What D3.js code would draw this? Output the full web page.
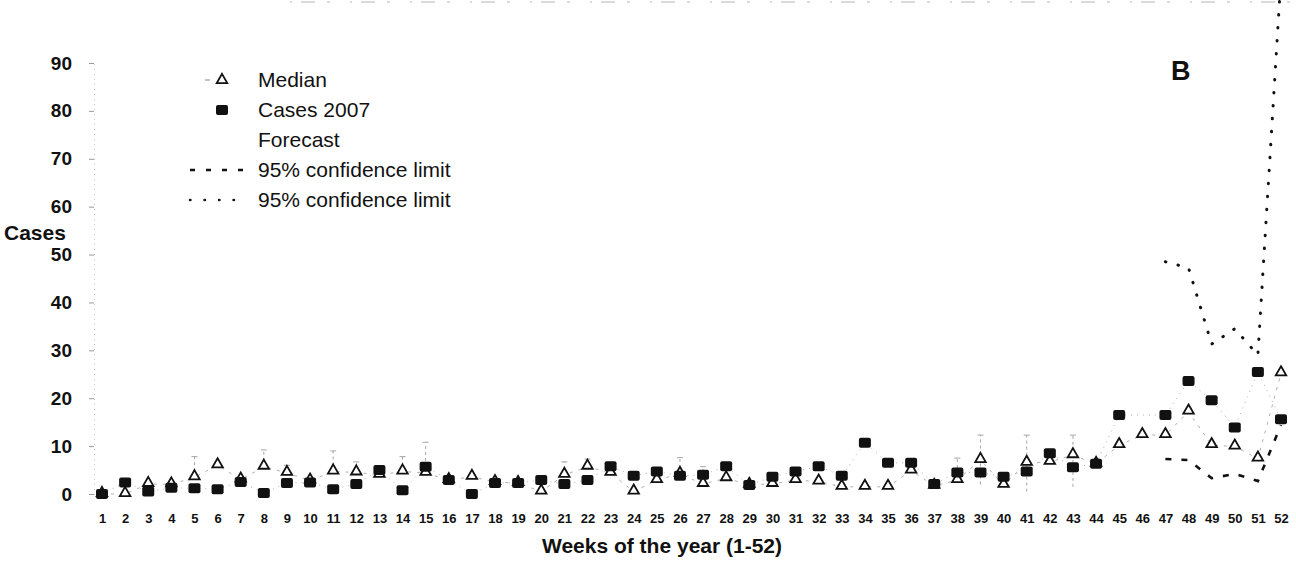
<!DOCTYPE html>
<html>
<head>
<meta charset="utf-8">
<script src="https://cdn.jsdelivr.net/npm/d3@7/dist/d3.min.js"></script>
<style>
  html, body { margin: 0; padding: 0; background: #fff; }
  svg { display: block; font-family: Arial, "Liberation Sans", sans-serif; }
</style>
</head>
<body>
<svg id="chart" width="1296" height="563"></svg>
<script>
// ---- data ----
const weeks = [1,2,3,4,5,6,7,8,9,10,11,12,13,14,15,16,17,18,19,20,21,22,23,24,25,26,
               27,28,29,30,31,32,33,34,35,36,37,38,39,40,41,42,43,44,45,46,47,48,49,50,51,52];
const median = [0,0,2.1,2,3.5,6.0,3,5.7,4.4,2.8,4.7,4.5,4.0,4.7,4.4,2.9,3.6,2.5,2.3,0.5,
                4.0,5.7,4.4,0.5,2.9,4.2,2.1,3.3,1.9,2.1,2.9,2.6,1.5,1.5,1.5,4.9,1.7,2.9,7.1,1.9,
                6.5,6.7,8.1,6.3,10.2,12.3,12.3,17.2,10.2,9.9,7.4,25.2];
const cases2007 = [0,2.4,0.5,1.3,1.2,1.0,2.5,0.2,2.3,2.4,1.0,2.1,5.0,0.8,5.7,2.9,0,2.3,2.3,2.9,
                   2.1,2.9,5.8,3.8,4.7,3.8,4.0,5.8,1.9,3.6,4.7,5.8,3.8,10.7,6.5,6.5,2.1,4.5,4.5,3.6,
                   4.7,8.5,5.6,6.3,16.5,null,16.5,23.6,19.6,13.9,25.5,15.6];
// historical range bars on the median (faint in the figure)
const rangeHigh = [null,null,null,null,7.8,null,null,9.2,6.0,null,9.0,6.7,null,7.8,10.8,null,null,null,null,null,
                   6.7,7.3,null,null,null,7.6,5.7,null,null,null,null,null,null,null,null,null,null,7.5,12.3,null,
                   12.3,null,12.3,null,null,null,null,null,null,null,null,null];
const rangeLow  = [null,null,null,null,null,null,null,null,null,null,null,null,null,null,null,null,null,null,null,null,
                   null,null,null,null,null,null,null,null,null,null,null,null,null,null,null,null,null,null,2.0,null,
                   0.5,null,1.5,null,null,null,null,null,null,null,null,null];
// forecast 95% confidence limits (weeks 47-52)
const limitWeeks = [47,48,49,50,51,52];
const upperLimit = [48.5,47.2,31.3,34.5,29,108];
const lowerLimit = [7.3,7.1,3.3,4.2,2.7,14.4];
const yTicks = [0,10,20,30,40,50,60,70,80,90];
const legendLabels = ["Median","Cases 2007","Forecast","95% confidence limit","95% confidence limit"];

// ---- scales ----
const svg = d3.select("#chart");
const x = d3.scaleLinear().domain([1,52]).range([102,1281]);
const y = d3.scaleLinear().domain([0,90]).range([494,63]);

// faint frame remnant at top
svg.append("line").attr("x1",290).attr("x2",1296).attr("y1",2).attr("y2",2)
  .attr("stroke","#b5b5b5").attr("stroke-width",1).attr("stroke-dasharray","2,9,14,12,3,20");

// y axis
const yAxis = d3.axisLeft(y).tickValues(yTicks).tickSize(5).tickPadding(17).tickFormat(d3.format("d"));
const gy = svg.append("g").attr("transform","translate(94,0)").call(yAxis);
gy.select(".domain").attr("stroke","#c4c4c4").attr("stroke-dasharray","1,4");
gy.selectAll(".tick line").attr("stroke","#999");
gy.selectAll(".tick text").attr("font-size",19).attr("font-weight","bold").attr("fill","#111");

// x axis labels
const xAxis = d3.axisBottom(x).tickValues(weeks).tickSize(0).tickPadding(0).tickFormat(d3.format("d"));
const gx = svg.append("g").attr("transform","translate(0,514)").call(xAxis);
gx.select(".domain").remove();
gx.selectAll(".tick text").attr("font-size",13).attr("font-weight","bold").attr("fill","#111");

// axis titles
svg.append("text").attr("x",4).attr("y",240).attr("font-size",21).attr("font-weight","bold")
  .attr("fill","#111").text("Cases");
svg.append("text").attr("x",662).attr("y",553).attr("text-anchor","middle").attr("font-size",21)
  .attr("font-weight","bold").attr("fill","#111").text("Weeks of the year (1-52)");
svg.append("text").attr("x",1171).attr("y",80).attr("font-size",27).attr("font-weight","bold")
  .attr("fill","#111").text("B");

// range bars (faint)
const bars = weeks.map((w,i)=>({w, hi:rangeHigh[i], lo: rangeLow[i]!==null ? rangeLow[i] : median[i]}))
  .filter(d=>d.hi!==null);
const gb = svg.append("g").attr("stroke","#a5a5a5").attr("stroke-width",1);
gb.selectAll("line.v").data(bars).join("line").attr("class","v")
  .attr("x1",d=>x(d.w)).attr("x2",d=>x(d.w)).attr("y1",d=>y(d.lo)).attr("y2",d=>y(d.hi))
  .attr("stroke-dasharray","3,3");
gb.selectAll("line.c").data(bars).join("line").attr("class","c")
  .attr("x1",d=>x(d.w)-3).attr("x2",d=>x(d.w)+3).attr("y1",d=>y(d.hi)).attr("y2",d=>y(d.hi));

// faint connecting lines
const medPts = weeks.map((w,i)=>({w, v:median[i]}));
const casePts = weeks.map((w,i)=>({w, v:cases2007[i]})).filter(d=>d.v!==null);
const line = d3.line().x(d=>x(d.w)).y(d=>y(d.v));
svg.append("path").datum(medPts).attr("d",line).attr("fill","none")
  .attr("stroke","#b0b0b0").attr("stroke-width",1).attr("stroke-dasharray","3,6");
svg.append("path").datum(casePts).attr("d",line).attr("fill","none")
  .attr("stroke","#b0b0b0").attr("stroke-width",1).attr("stroke-dasharray","1,5");

// confidence limits
const upPts = limitWeeks.map((w,i)=>({w, v:upperLimit[i]}));
const loPts = limitWeeks.map((w,i)=>({w, v:lowerLimit[i]}));
svg.append("path").datum(upPts).attr("d",line).attr("fill","none")
  .attr("stroke","#111").attr("stroke-width",3).attr("stroke-linecap","round")
  .attr("stroke-dasharray","0.5,12.5");
svg.append("path").datum(loPts).attr("d",line).attr("fill","none")
  .attr("stroke","#111").attr("stroke-width",2.6).attr("stroke-dasharray","6,10");

// markers
const tri = d3.symbol().type(d3.symbolTriangle).size(48);
svg.append("g").selectAll("path").data(medPts).join("path")
  .attr("d",tri).attr("transform",d=>`translate(${x(d.w)},${y(d.v)-1})`)
  .attr("fill","#fff").attr("stroke","#111").attr("stroke-width",1.8);
svg.append("g").selectAll("rect").data(casePts).join("rect")
  .attr("x",d=>x(d.w)-6).attr("y",d=>y(d.v)-5).attr("width",12).attr("height",10).attr("rx",2)
  .attr("fill","#111");

// legend
const lg = svg.append("g");
const rowY = [80,110,140,170,200];
lg.selectAll("text").data(legendLabels).join("text")
  .attr("x",258).attr("y",(d,i)=>rowY[i]+7).attr("font-size",21).attr("fill","#111").text(d=>d);
lg.append("line").attr("x1",205).attr("x2",210).attr("y1",rowY[0]).attr("y2",rowY[0])
  .attr("stroke","#888").attr("stroke-width",1);
lg.append("path").attr("d",tri).attr("transform",`translate(222,${rowY[0]})`)
  .attr("fill","#fff").attr("stroke","#111").attr("stroke-width",1.8);
lg.append("rect").attr("x",216).attr("y",rowY[1]-5).attr("width",12).attr("height",10).attr("rx",2).attr("fill","#111");
lg.append("line").attr("x1",190).attr("x2",246).attr("y1",rowY[3]).attr("y2",rowY[3])
  .attr("stroke","#111").attr("stroke-width",2.4).attr("stroke-dasharray","5,11");
lg.append("line").attr("x1",190).attr("x2",246).attr("y1",rowY[4]).attr("y2",rowY[4])
  .attr("stroke","#111").attr("stroke-width",2.4).attr("stroke-linecap","round").attr("stroke-dasharray","0.5,14");
</script>
</body>
</html>
